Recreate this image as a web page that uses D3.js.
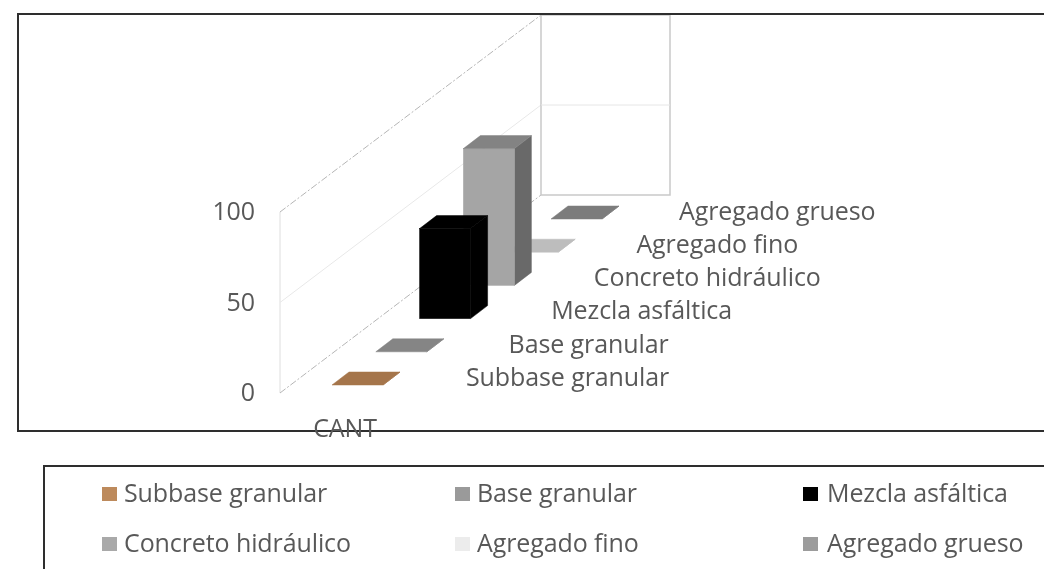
<!DOCTYPE html>
<meta charset="utf-8">
<style>
  body { margin: 0; background: #fff; }
  text { font-family: "Open Sans", sans-serif; font-size: 25px; fill: #595959; letter-spacing: -0.1px; }
</style>
<body>
<div id="chart"></div>

<script src="https://d3js.org/d3.v7.min.js"></script>
<script>
// data
var series = ["Subbase granular", "Base granular", "Mezcla asfáltica", "Concreto hidráulico", "Agregado fino", "Agregado grueso"];
var values = [0, 0, 50, 76, 0, 0];
var category = "CANT";
var yTicks = [0, 50, 100];

// colours: floor/top, front, side
var topColors = ["#a5754b", "#858585", "#000000", "#838383", "#bdbdbd", "#7c7c7c"];
var frontColors = ["#a5754b", "#858585", "#000000", "#a5a5a5", "#bdbdbd", "#7c7c7c"];
var sideColors = ["#a5754b", "#858585", "#000000", "#696969", "#bdbdbd", "#7c7c7c"];
var legendColors = ["#bd8a5c", "#9a9a9a", "#000000", "#a9a9a9", "#ececec", "#9c9c9c"];

var width = 1044, height = 569;
var barW = 51, depthX = 17, depthY = 13;

var svg = d3.select("#chart").append("svg")
    .attr("width", width)
    .attr("height", height)
    .style("display", "block");

// the source is a soft upscaled screenshot
var soft = svg.append("defs").append("filter").attr("id", "soft");
soft.append("feGaussianBlur").attr("stdDeviation", 0.7);

var g = svg.append("g").attr("filter", "url(#soft)");

// scales: depth along the floor, value up the walls
var depthXScale = d3.scalePoint().domain(series).range([332, 551]);
var depthYScale = d3.scalePoint().domain(series).range([385, 219]);
var labelX = d3.scalePoint().domain(series).range([466, 679]);
var wallY = d3.scaleLinear().domain([0, 100]).range([393, 212]);
var backY = d3.scaleLinear().domain([0, 100]).range([195, 15]);
var barH = d3.scaleLinear().domain([0, 100]).range([0, 180]);
var wallX = 280, backX = 541, backX2 = 670;

// left wall
g.append("line")
    .attr("x1", wallX).attr("x2", wallX)
    .attr("y1", wallY(0)).attr("y2", wallY(100))
    .style("stroke", "#dedede");

g.selectAll(".depth-line")
    .data(yTicks)
  .enter().append("line")
    .attr("class", "depth-line")
    .attr("x1", wallX).attr("x2", backX)
    .attr("y1", function(d) { return wallY(d); })
    .attr("y2", function(d) { return backY(d); })
    .style("stroke", function(d) { return d === 50 ? "#e8e8e8" : "#b5b5b5"; })
    .style("stroke-dasharray", function(d) { return d === 50 ? null : "7 2 2 2"; });

// back wall
g.append("rect")
    .attr("x", backX).attr("y", backY(100))
    .attr("width", backX2 - backX).attr("height", backY(0) - backY(100))
    .style("fill", "none")
    .style("stroke", "#c9c9c9")
    .style("stroke-width", 1.5);

g.append("line")
    .attr("x1", backX).attr("x2", backX2)
    .attr("y1", backY(50)).attr("y2", backY(50))
    .style("stroke", "#e6e6e6");

// bars, back to front
var bars = g.selectAll(".bar")
    .data(series.map(function(s, i) { return i; }).reverse())
  .enter().append("g")
    .attr("class", "bar");

function px(i) { return depthXScale(series[i]); }
function py(i) { return depthYScale(series[i]); }

function pts(a) { return a.map(function(p) { return p.join(","); }).join(" "); }

// side face
bars.append("polygon")
    .attr("points", function(i) {
      var x = px(i) + barW, y = py(i), t = y - barH(values[i]);
      return pts([[x, y], [x + depthX, y - depthY], [x + depthX, t - depthY], [x, t]]);
    })
    .style("fill", function(i) { return sideColors[i]; })
    .style("stroke", function(i) { return sideColors[i]; })
    .style("stroke-width", 0.5);

// front face
bars.append("rect")
    .attr("x", function(i) { return px(i); })
    .attr("y", function(i) { return py(i) - barH(values[i]); })
    .attr("width", barW)
    .attr("height", function(i) { return barH(values[i]); })
    .style("fill", function(i) { return frontColors[i]; })
    .style("stroke", function(i) { return frontColors[i]; })
    .style("stroke-width", 0.5);

// top face
bars.append("polygon")
    .attr("points", function(i) {
      var x = px(i), t = py(i) - barH(values[i]);
      return pts([[x, t], [x + depthX, t - depthY], [x + barW + depthX, t - depthY], [x + barW, t]]);
    })
    .style("fill", function(i) { return topColors[i]; })
    .style("stroke", function(i) { return topColors[i]; })
    .style("stroke-width", 0.5);

// depth labels
g.selectAll(".series-label")
    .data(series)
  .enter().append("text")
    .attr("class", "series-label")
    .attr("x", function(d) { return labelX(d); })
    .attr("y", function(d) { return depthYScale(d) - 8; })
    .attr("dy", "0.35em")
    .text(function(d) { return d; });

// value axis labels
var yAxis = g.append("g")
    .attr("transform", "translate(255,0)")
    .call(d3.axisLeft(wallY).tickValues(yTicks).tickSize(0).tickPadding(0));
yAxis.select(".domain").remove();
yAxis.selectAll("text")
    .style("font-family", "'Open Sans', sans-serif")
    .style("font-size", "25px")
    .style("fill", "#595959")
    .attr("dy", "0.3em");

// frames
g.append("path")
    .attr("d", "M1044,14H18V431H1044")
    .style("fill", "none")
    .style("stroke", "#2e2e2e")
    .style("stroke-width", 2);

g.append("path")
    .attr("d", "M1044,466H44V569")
    .style("fill", "none")
    .style("stroke", "#2e2e2e")
    .style("stroke-width", 2);

g.append("text")
    .attr("x", 345)
    .attr("y", 428)
    .attr("dy", "0.35em")
    .style("text-anchor", "middle")
    .text(category);

// legend
var legendCol = d3.scaleOrdinal().domain([0, 1, 2]).range([102, 455, 803]);
var legendRow = d3.scaleOrdinal().domain([0, 1]).range([494, 544]);

var legend = g.selectAll(".legend")
    .data(series)
  .enter().append("g")
    .attr("class", "legend")
    .attr("transform", function(d, i) {
      return "translate(" + legendCol(i % 3) + "," + legendRow(Math.floor(i / 3)) + ")";
    });

legend.append("rect")
    .attr("x", 0).attr("y", -7)
    .attr("width", 15).attr("height", 14)
    .style("fill", function(d, i) { return legendColors[i]; });

legend.append("text")
    .attr("x", function(d, i) { return i % 3 === 2 ? 24 : 22; })
    .attr("y", -1)
    .attr("dy", "0.35em")
    .text(function(d) { return d; });
</script>
</body>
